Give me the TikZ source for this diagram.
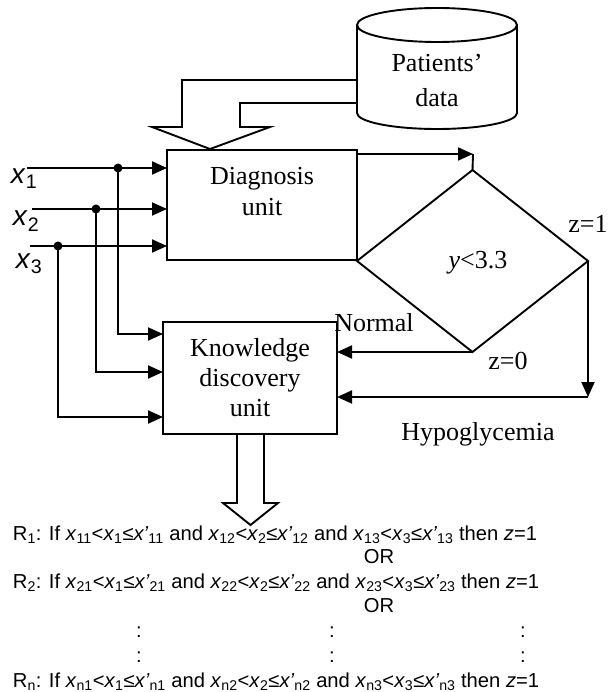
\documentclass[tikz,border=0pt]{standalone}
\usepackage{fontspec}
\setmainfont{Liberation Serif}
\setsansfont{Liberation Sans}
\usetikzlibrary{arrows.meta,shapes.geometric,calc}

\newcommand{\xlo}[1]{\textit{x}\textsubscript{#1}}
\newcommand{\xhi}[1]{\textit{x’}\textsubscript{#1}}

\begin{document}
\begin{tikzpicture}[x=1pt,y=-1pt,line width=1.9pt,
  arr/.style={-{Triangle[length=15pt,width=13pt]}},
  box/.style={draw,rectangle,inner sep=0pt,outer sep=0pt},
  lbl/.style={font=\fontsize{26}{31}\selectfont,align=center,inner sep=0pt},
  inlbl/.style={font=\sffamily\fontsize{28}{30}\selectfont,anchor=base west,inner sep=0pt},
  rule/.style={font=\sffamily\fontsize{20.2}{24.5}\selectfont,anchor=base west,inner sep=0pt},
  dot/.style={circle,fill,inner sep=0pt,minimum size=9pt}]
\useasboundingbox[fill=white] (0,0) rectangle (607,692);

% patients' data
\draw (357,25) -- (357,113) arc[start angle=180,end angle=0,x radius=80,y radius=16] -- (517,25);
\draw (437,25) ellipse[x radius=80,y radius=17];
\node[lbl,font=\fontsize{26}{35}\selectfont] (data) at (437,80) {Patients’\\data};
\draw (357,80) -- (182,80) -- (182,127) -- (152,127) -- (210,149) -- (270,127) -- (240,127) -- (240,103) -- (357,103);

\node[box,minimum width=190pt,minimum height=110pt] (diag) at (262,205) {};
\node[lbl] (diagtxt) at (262,192) {Diagnosis\\unit};
\node[box,lbl,minimum width=174pt,minimum height=112pt,font=\fontsize{26}{30}\selectfont] (know) at (250,378) {Knowledge\\discovery\\unit};
\node[draw,diamond,inner sep=0pt,outer sep=0pt,minimum width=231pt,minimum height=182pt] (dec) at (472.5,261) {};
\node[lbl,anchor=base] (cond) at (478,269) {\textit{y}<3.3};

% inputs
\coordinate (in1) at (27,168);
\coordinate (in2) at (32,209);
\coordinate (in3) at (30,246);
\node[inlbl] (lx1) at (10,184) {\textit{x}\textsubscript{1}};
\node[inlbl] (lx2) at (12,226) {\textit{x}\textsubscript{2}};
\node[inlbl] (lx3) at (15,268) {\textit{x}\textsubscript{3}};
\draw[arr] (in1) -- (in1 -| diag.west);
\draw[arr] (in2) -- (in2 -| diag.west);
\draw[arr] (in3) -- (in3 -| diag.west);
\node[dot] (b1) at (118,168) {};
\node[dot] (b2) at (96,209) {};
\node[dot] (b3) at (58,246) {};
\draw[arr] (b1.center) |- (know.west |- 0,334);
\draw[arr] (b2.center) |- (know.west |- 0,372);
\draw[arr] (b3.center) |- (know.west |- 0,417);

% decision
\coordinate (top) at (473,154);
\draw[arr] (top -| diag.east) -- (top);
\draw (top) -- (dec.north);
\draw[arr] (dec.south) -- (dec.south -| know.east);
\coordinate (hyp) at (dec.east |- 0,397);
\draw[arr] (dec.east) -- (hyp);
\draw[arr] (hyp) -- (hyp -| know.east);
\node[lbl,anchor=base] (normal) at (374,331) {Normal};
\node[lbl,anchor=base] (z0) at (508,369) {z=0};
\node[lbl,anchor=base] (z1) at (588,233) {z=1};
\node[lbl,anchor=base] (hypo) at (478,440) {Hypoglycemia};

% rules
\draw (237,434) -- (237,503) -- (223,503) -- (250.5,525) -- (278,503) -- (264,503) -- (264,434);
\node[rule] (r1) at (12,540) {R\textsubscript{1}: If \xlo{11}<\xlo{1}≤\xhi{11} and \xlo{12}<\xlo{2}≤\xhi{12} and \xlo{13}<\xlo{3}≤\xhi{13} then \textit{z}=1};
\node[rule,anchor=base] (or1) at (379,563) {OR};
\node[rule] (r2) at (12,588) {R\textsubscript{2}: If \xlo{21}<\xlo{1}≤\xhi{21} and \xlo{22}<\xlo{2}≤\xhi{22} and \xlo{23}<\xlo{3}≤\xhi{23} then \textit{z}=1};
\node[rule,anchor=base] (or2) at (379,612) {OR};
\foreach \cx in {139,332,523}{
  \node[rule,anchor=base] at (\cx,637) {:};
  \node[rule,anchor=base] at (\cx,662) {:};
}
\node[rule] (rn) at (12,687) {R\textsubscript{n}: If \xlo{n1}<\xlo{1}≤\xhi{n1} and \xlo{n2}<\xlo{2}≤\xhi{n2} and \xlo{n3}<\xlo{3}≤\xhi{n3} then \textit{z}=1};
\end{tikzpicture}
\end{document}
